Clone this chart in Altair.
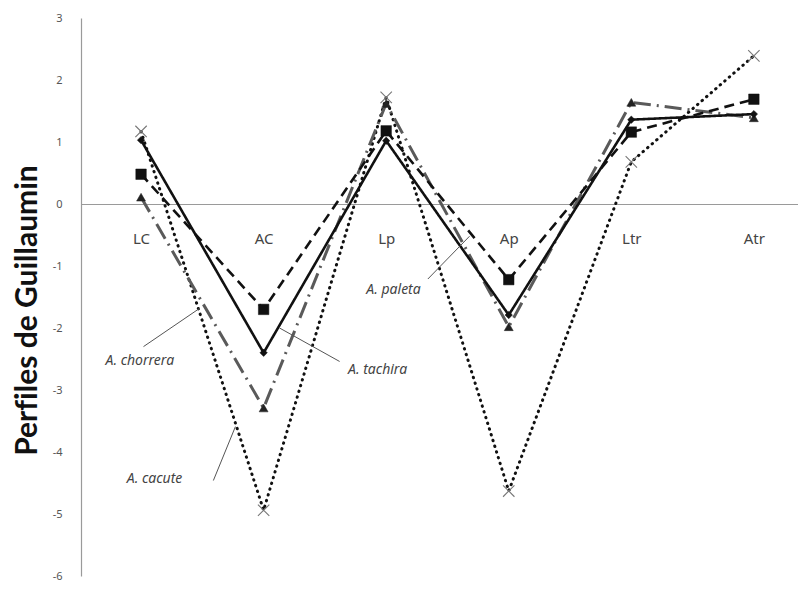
import altair as alt
import pandas as pd

categories = ["LC", "AC", "Lp", "Ap", "Ltr", "Atr"]
series_names = ["A. cacute", "A. chorrera", "A. paleta", "A. tachira"]
cacute = [1.17, -4.94, 1.72, -4.63, 0.68, 2.39]
chorrera = [0.11, -3.29, 1.62, -1.98, 1.64, 1.39]
paleta = [0.48, -1.70, 1.18, -1.22, 1.16, 1.69]
tachira = [1.03, -2.40, 1.02, -1.79, 1.36, 1.45]
values = [cacute, chorrera, paleta, tachira]

# annotation labels (data units) and their leader lines
ann_text = ["A. chorrera", "A. cacute", "A. tachira", "A. paleta"]
ann_x = [-0.01, 0.11, 1.93, 2.06]
ann_y = [-2.54, -4.43, -2.68, -1.38]
lead_x1 = [0.02, 0.59, 1.62, 2.34]
lead_y1 = [-2.30, -4.46, -2.54, -1.21]
lead_x2 = [0.48, 0.77, 1.13, 2.68]
lead_y2 = [-1.68, -3.59, -2.00, -0.52]

# zero-width non-joiner keeps "f" and "i" as separate letters (no ligature)
y_title = "Perf\u200ciles de Guillaumin"

XSHAPE = "M-1,-1L1,1M-1,1L1,-1"

styles = {
    "A. cacute": dict(color="#111111", dash=[0.5, 5.5], cap="round", width=3.0, shape=XSHAPE,
                      size=130, mfill="transparent", mstroke="#777777", msw=1.1),
    "A. chorrera": dict(color="#5a5a5a", dash=[17, 6, 2, 6], cap="butt", width=3.0, shape="triangle-up",
                        size=80, mfill="#222222", mstroke="#222222", msw=0.5),
    "A. paleta": dict(color="#111111", dash=[10, 6], cap="butt", width=2.6, shape="square",
                      size=110, mfill="#111111", mstroke="#111111", msw=0.5),
    "A. tachira": dict(color="#111111", dash=[1, 0], cap="butt", width=2.6, shape="diamond",
                       size=55, mfill="#111111", mstroke="#111111", msw=0.5),
}

W, H = 717, 558
X_DOM = [-0.49, 5.36]
Y_DOM = [-6, 3]

label_expr = "[" + ",".join("'%s'" % c for c in categories) + "][datum.value]"

xscale = alt.Scale(domain=X_DOM, nice=False, zero=False)
yscale = alt.Scale(domain=Y_DOM, nice=False, zero=False)

zero_off = -(H * (0 - Y_DOM[0]) / (Y_DOM[1] - Y_DOM[0]))

layers = []
for name, vals in zip(series_names, values):
    st = styles[name]
    df = pd.DataFrame({"i": list(range(len(categories))), "cat": categories, "v": vals, "s": name})
    base = alt.Chart(df)
    line = base.mark_line(color=st["color"], strokeDash=st["dash"], strokeWidth=st["width"],
                          strokeCap=st["cap"]).encode(
        x=alt.X("i:Q", scale=xscale,
                axis=alt.Axis(values=list(range(len(categories))), labelExpr=label_expr,
                              offset=zero_off, ticks=False, grid=False,
                              domainColor="#9a9a9a", domainWidth=1.2,
                              labelFont="Noto Sans", labelFontSize=15, labelColor="#444444",
                              labelPadding=27, title=None)),
        y=alt.Y("v:Q", scale=yscale,
                axis=alt.Axis(values=list(range(-6, 4)), labelExpr="'' + datum.value",
                              ticks=False, grid=False,
                              domainColor="#9a9a9a", domainWidth=1.2,
                              labelFont="Noto Sans", labelFontSize=11, labelColor="#555555",
                              labelPadding=19,
                              title=y_title, titleFont="Lato", titleFontSize=30,
                              titleFontWeight="bold", titleColor="#111111",
                              titleX=-45, titleY=292, titleAngle=-90, titleBaseline="alphabetic")),
    )
    pts = base.mark_point(shape=st["shape"], size=st["size"], filled=False,
                          fill=st["mfill"], stroke=st["mstroke"], strokeWidth=st["msw"],
                          opacity=1).encode(x=alt.X("i:Q", scale=xscale), y=alt.Y("v:Q", scale=yscale))
    layers += [line, pts]

ann_df = pd.DataFrame({"t": ann_text, "x": ann_x, "y": ann_y})
lead_df = pd.DataFrame({"x1": lead_x1, "y1": lead_y1, "x2": lead_x2, "y2": lead_y2})

leaders = alt.Chart(lead_df).mark_rule(color="#555555", strokeWidth=1).encode(
    x=alt.X("x1:Q", scale=xscale), y=alt.Y("y1:Q", scale=yscale),
    x2="x2:Q", y2="y2:Q")
texts = alt.Chart(ann_df).mark_text(font="Noto Sans", fontSize=14, fontStyle="italic",
                                    color="#444444", align="center", baseline="middle").encode(
    x=alt.X("x:Q", scale=xscale), y=alt.Y("y:Q", scale=yscale), text="t:N")

chart = alt.layer(*layers, leaders, texts).properties(
    width=W, height=H,
    autosize=alt.AutoSizeParams(type="none"),
    padding={"left": 73, "top": 10, "right": 0, "bottom": 5},
    background="#ffffff",
).configure_view(stroke=None)

chart.save("out.html", embed_options={"renderer": "svg", "actions": False})
